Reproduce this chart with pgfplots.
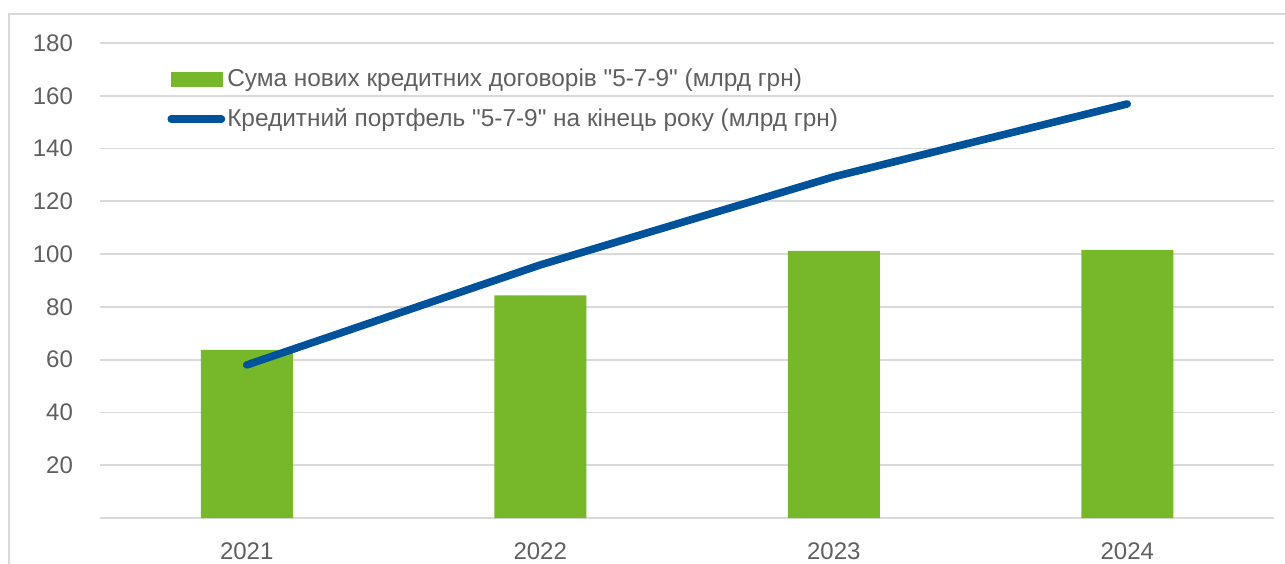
\documentclass[border=0pt]{standalone}
\usepackage{fontspec}
\setmainfont{Liberation Sans}
\usepackage{pgfplots}
\pgfplotsset{compat=1.18}
\definecolor{barg}{HTML}{76B82A}
\definecolor{lineb}{HTML}{00529B}
\definecolor{gridc}{HTML}{D9D9D9}
\definecolor{txt}{HTML}{5F5F5F}
\begin{document}
\begin{tikzpicture}
\begin{axis}[
  at={(50pt,22.5pt)}, anchor=south west,
  scale only axis, width=587pt, height=237.5pt,
  xmin=-0.5, xmax=3.5, ymin=0, ymax=180,
  axis line style={draw=none},
  major tick length=0pt,
  ytick={0,20,...,180},
  yticklabels={{},20,40,60,80,100,120,140,160,180},
  xtick={0,1,2,3}, xticklabels={2021,2022,2023,2024},
  ymajorgrids, grid style={gridc, line width=0.9pt},
  tick label style={font=\fontsize{12}{14}\selectfont, text=txt},
  /pgf/number format/assume math mode=true,
  yticklabel style={xshift=-10pt},
  xticklabel style={yshift=-9pt},
  clip=false,
  legend cell align=left,
  legend style={at={(rel axis cs:0.052,0.959)}, anchor=north west,
    draw=none, fill=none, font=\fontsize{12.2}{14}\selectfont, text=txt,
    row sep=7.5pt, nodes={inner sep=1pt},
    /tikz/every odd column/.append style={column sep=0pt}},
]
\addplot[ybar, bar width=46pt, fill=barg, draw=none,
  legend image code/.code={\fill[barg] (2pt,-3.75pt) rectangle (28pt,3.75pt);}]
  coordinates {(0,63.7) (1,84.4) (2,101.2) (3,101.6)};
\addlegendentry{Сума нових кредитних договорів \textquotedbl5-7-9\textquotedbl{} (млрд грн)}
\addplot[lineb, line width=3.8pt, line cap=round, line join=round,
  legend image code/.code={\draw[lineb,line width=3.8pt,line cap=round] (1.9pt,0pt) -- (27pt,0pt);}]
  coordinates {(0,58.0) (1,95.9) (2,129.3) (3,156.9)};
\addlegendentry{Кредитний портфель \textquotedbl5-7-9\textquotedbl{} на кінець року (млрд грн)}
\end{axis}
\draw[gridc, line width=0.8pt] (4.5pt,-5pt) -- (4.5pt,274.5pt) -- (650pt,274.5pt);
\pgfresetboundingbox
\useasboundingbox (0,0) rectangle (642.5pt,281.5pt);
\end{tikzpicture}
\end{document}
